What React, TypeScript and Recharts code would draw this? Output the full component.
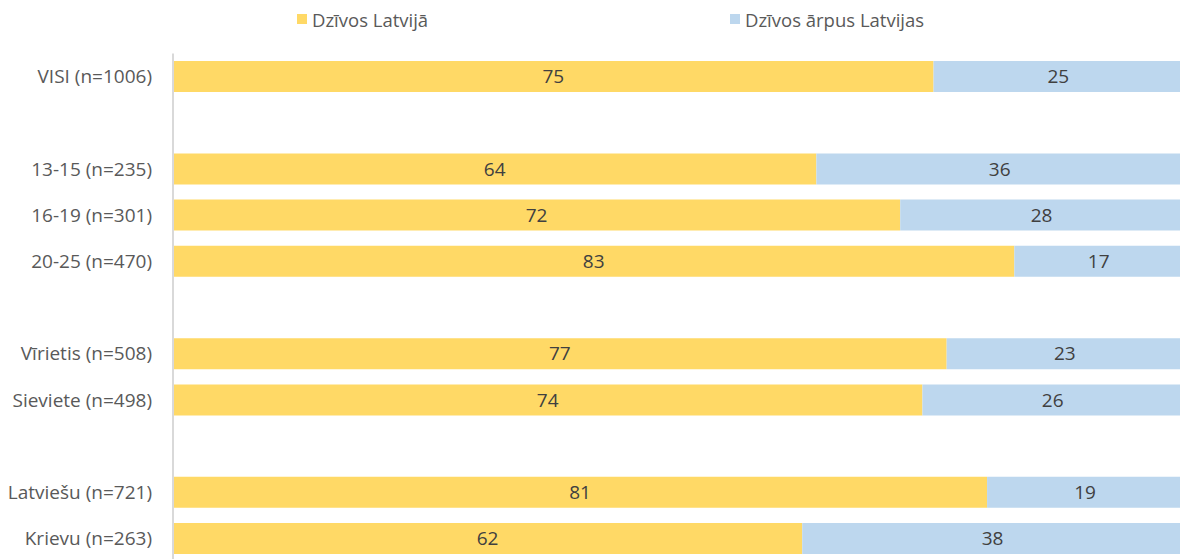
import React from 'react';
import { BarChart, Bar, XAxis, YAxis, LabelList } from 'recharts';

const categories = [
  'VISI (n=1006)',
  ' ',
  '13-15 (n=235)',
  '16-19 (n=301)',
  '20-25 (n=470)',
  '  ',
  'Vīrietis (n=508)',
  'Sieviete (n=498)',
  '   ',
  'Latviešu (n=721)',
  'Krievu (n=263)',
];

const livingInLatvia: (number | null)[] = [75.3, null, 63.7, 72.0, 83.3, null, 76.6, 74.2, null, 80.6, 62.3];
const livingAbroad: (number | null)[] = livingInLatvia.map((v) => (v == null ? null : 100 - v));

const seriesNames = ['Dzīvos Latvijā', 'Dzīvos ārpus Latvijas'];
const colors = ['#FFD966', '#BDD7EE'];

const data = categories.map((c, i) => ({
  name: c,
  a: livingInLatvia[i],
  b: livingAbroad[i],
}));

const FONT = '"Open Sans", Lato, sans-serif';
const FS = 19;
const LEGEND_FS = 18.5;

const fmt = (v: any) => (v == null || v === '' ? '' : String(Math.round(Number(v))));

export default function App() {
  return (
    <div
      style={{
        position: 'absolute',
        left: 0,
        top: 0,
        width: 1180,
        height: 559,
        overflow: 'hidden',
        background: '#fff',
        fontFamily: FONT,
      }}
    >
      {seriesNames.map((n, i) => (
        <div
          key={n}
          style={{
            position: 'absolute',
            left: i === 0 ? 297 : 730,
            top: 8,
            height: 22,
            display: 'flex',
            alignItems: 'center',
            color: '#595959',
            fontSize: LEGEND_FS,
            whiteSpace: 'nowrap',
          }}
        >
          <span style={{ display: 'inline-block', width: 10, height: 10, background: colors[i], marginRight: 5 }} />
          {n}
        </div>
      ))}
      <BarChart
        width={1190}
        height={570}
        data={data}
        layout="vertical"
        margin={{ top: 53.4, right: 7, bottom: 8.4, left: 0 }}
        barCategoryGap={7.6}
      >
        <XAxis type="number" domain={[0, 100]} hide />
        <YAxis
          type="category"
          dataKey="name"
          width={173}
          axisLine={{ stroke: '#D9D9D9', strokeWidth: 2 }}
          tickLine={false}
          tickSize={0}
          tickMargin={21}
          tick={{ fill: '#595959', fontSize: FS, fontFamily: FONT }}
        />
        <Bar dataKey="a" stackId="s" fill={colors[0]} isAnimationActive={false}>
          <LabelList dataKey="a" position="center" formatter={fmt} fill="#404040" fontSize={FS} fontFamily={FONT} />
        </Bar>
        <Bar dataKey="b" stackId="s" fill={colors[1]} isAnimationActive={false}>
          <LabelList dataKey="b" position="center" formatter={fmt} fill="#404040" fontSize={FS} fontFamily={FONT} />
        </Bar>
      </BarChart>
    </div>
  );
}
